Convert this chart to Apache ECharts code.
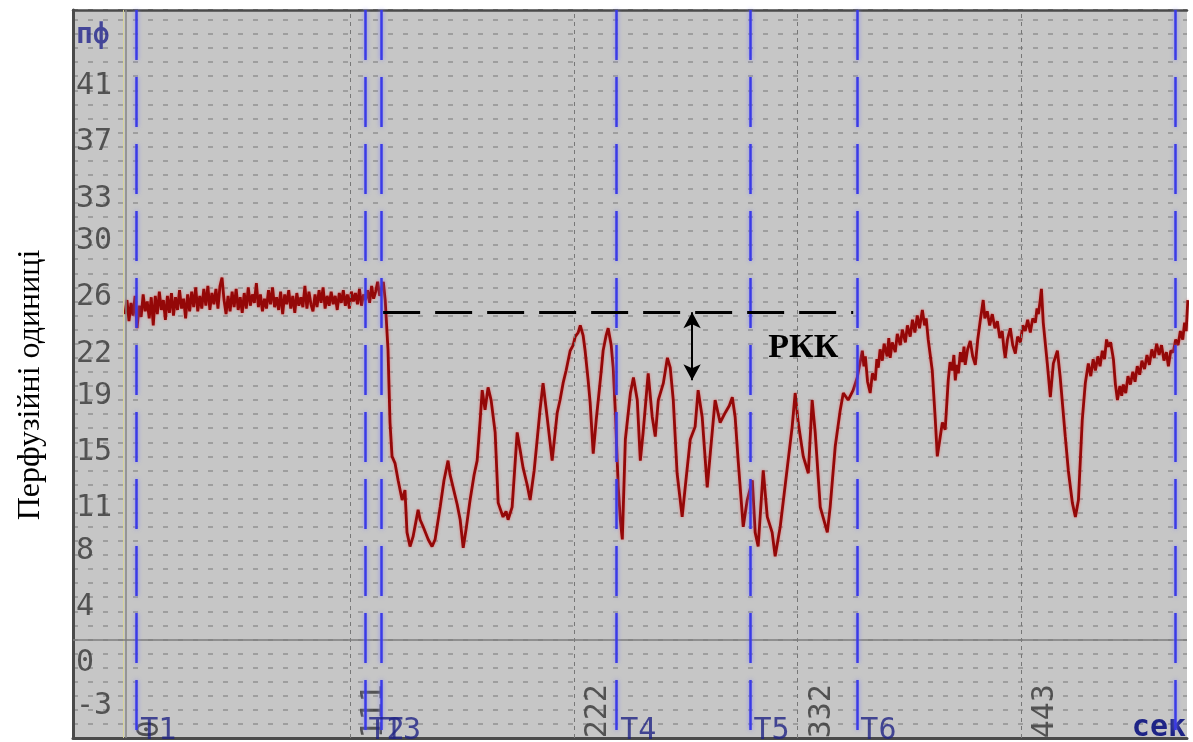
<!DOCTYPE html>
<html>
<head>
<meta charset="utf-8">
<script src="https://cdn.jsdelivr.net/npm/echarts@6/dist/echarts.min.js"></script>
<style>
  html, body { margin: 0; padding: 0; background: #ffffff; }
  #chart { width: 1193px; height: 742px; }
</style>
</head>
<body>
<div id="chart"></div>
<script>
// Laser Doppler flowmetry record: perfusion units over time, seconds.
// Each pair is [time, s ; perfusion, пф].
const perfusion = [
  [-0.5,24.6],[0.5,25.6],[1.5,24.1],[2.5,25.4],[3.5,24.5],[4.5,25.9],[5.5,23.6],[6.5,25.2],
  [7.5,24.4],[8.5,26.0],[9.5,24.8],[10.5,25.5],[11.5,24.3],[12.5,25.8],[13.5,23.8],[14.5,25.9],
  [15.5,24.6],[16.5,26.2],[17.5,24.9],[18.5,25.6],[19.5,24.2],[20.5,25.9],[21.5,24.7],[22.5,26.1],
  [23.5,24.5],[24.5,25.8],[25.5,24.9],[26.5,26.3],[27.5,25.0],[28.5,25.7],[29.5,24.3],[30.5,26.0],
  [31.5,24.8],[32.5,26.2],[33.5,25.1],[34.5,26.5],[35.5,24.8],[36.5,25.9],[37.5,25.0],[38.5,26.4],
  [39.5,25.2],[40.5,26.6],[41.5,24.9],[42.5,26.1],[43.5,25.3],[44.5,26.4],[45.5,25.0],[46.5,26.6],
  [47.5,27.2],[48.5,25.6],[49.5,24.6],[50.5,25.9],[51.5,24.8],[52.5,26.2],[53.5,25.1],[54.5,26.4],
  [55.5,24.9],[56.5,25.8],[57.5,24.7],[58.5,26.1],[59.5,25.0],[60.5,26.5],[61.5,25.2],[62.5,26.0],
  [63.5,25.4],[64.5,26.8],[65.5,25.1],[66.5,26.0],[67.5,24.8],[68.5,25.7],[69.5,25.0],[70.5,26.3],
  [71.5,25.3],[72.5,26.5],[73.5,25.1],[74.5,25.8],[75.5,24.9],[76.5,26.2],[77.5,24.6],[78.5,26.0],
  [79.5,25.3],[80.5,26.3],[81.5,25.0],[82.5,25.9],[83.5,24.7],[84.5,26.1],[85.5,25.2],[86.5,25.8],
  [87.5,25.1],[88.5,26.6],[89.5,25.0],[90.5,26.2],[91.5,25.3],[92.5,24.8],[93.5,26.0],[94.5,25.1],
  [95.5,26.3],[96.5,25.4],[97.5,26.5],[98.5,25.0],[99.5,25.9],[100.5,25.2],[101.5,26.2],[102.5,25.3],
  [103.5,25.9],[104.5,24.9],[105.5,26.1],[106.5,25.4],[107.5,26.3],[108.5,25.2],[109.5,26.0],[110.5,25.0],
  [111.5,26.2],[112.5,25.5],[113.5,26.1],[114.5,25.3],[115.5,26.4],[116.5,25.2],[117.5,26.0],[118.5,25.6],
  [119.5,26.3],[120.5,25.4],[121.5,26.6],[122.5,25.7],[123.5,26.2],[124.5,26.9],[125.5,25.9],[126.5,26.5],
  [127.3,26.9],
  [128.2,25.6],[129.6,22.1],[130.6,16.9],[131.6,14.5],[133.1,14.0],[134.6,12.8],[136.6,11.4],[138.0,12.1],
  [139.0,9.1],[140.5,8.1],[142.0,8.8],[144.5,10.7],[145.5,10.0],[147.0,9.5],[149.5,8.6],[151.4,8.1],
  [152.9,8.6],[155.4,10.9],[157.3,12.8],[159.3,14.2],[160.3,13.2],[161.8,12.3],[163.8,11.1],[165.3,10.0],
  [166.8,8.0],[168.2,9.3],[170.2,11.4],[172.2,13.2],[173.7,14.2],[175.2,17.1],[176.2,19.2],[177.6,17.8],
  [179.1,19.4],[180.6,18.5],[182.6,16.2],[184.1,11.2],[186.5,10.2],[188.0,10.6],[189.0,10.0],[191.0,10.9],
  [193.5,16.2],[194.9,15.0],[196.4,13.7],[198.4,12.5],[199.9,11.4],[201.9,13.5],[203.4,15.7],[204.8,17.8],
  [206.3,19.7],[208.3,17.3],[210.8,14.2],[213.3,17.6],[214.7,18.5],[216.2,19.7],[217.7,20.6],[219.7,22.0],
  [221.2,22.4],[222.2,23.0],[223.7,23.3],[224.7,23.8],[226.1,23.1],[227.1,22.0],[228.6,19.9],[229.6,18.3],
  [231.1,14.7],[232.6,17.1],[233.6,18.5],[235.1,20.6],[236.0,22.0],[237.5,23.1],[238.5,23.6],[240.0,22.4],
  [241.0,20.8],[242.0,17.8],[243.5,12.3],[244.5,10.0],[245.5,8.6],[247.0,15.7],[249.5,19.0],[251.0,20.1],
  [252.9,18.5],[254.4,14.2],[255.8,16.2],[258.3,20.4],[260.3,17.3],[261.8,15.9],[263.3,18.5],[265.8,19.7],
  [267.8,21.5],[269.2,20.8],[270.7,18.5],[272.6,13.3],[275.1,10.2],[276.6,12.3],[279.1,15.7],[281.5,16.6],
  [283.0,19.2],[285.0,17.3],[287.5,12.3],[289.0,14.7],[291.4,18.5],[293.9,16.9],[296.4,17.6],[298.4,18.1],
  [299.9,18.7],[301.3,17.3],[302.8,14.2],[305.3,9.5],[307.3,11.4],[309.8,12.8],[311.2,9.1],[312.7,8.1],
  [315.2,13.5],[317.2,10.2],[319.6,9.1],[321.1,7.4],[323.6,9.5],[327.1,13.7],[329.5,16.6],[331.0,19.0],
  [332.5,16.9],[335.0,14.5],[337.5,13.3],[339.4,18.5],[340.9,16.2],[343.4,10.9],[346.9,9.1],[348.3,10.9],
  [350.8,15.2],[353.3,17.8],[354.8,19.0],[357.2,18.5],[359.7,19.2],[361.7,20.1],
  [364.2,22.0],[365.0,20.9],[365.7,21.6],[366.8,19.8],[368.1,19.0],[369.2,20.4],[370.6,19.9],[371.4,21.4],
  [372.1,20.8],[373.0,22.1],[374.1,21.3],[375.0,22.5],[376.5,21.6],[377.3,22.9],[378.0,21.5],[379.0,22.6],
  [380.5,21.9],[381.5,23.2],[383.0,22.4],[384.0,23.5],[385.5,22.6],[386.5,23.8],[387.9,23.0],[389.0,24.2],
  [390.2,23.3],[391.4,24.5],[392.5,23.6],[393.9,24.9],[395.0,23.8],[395.8,24.3],[396.8,22.8],[398.8,20.6],
  [400.3,17.1],[401.3,14.5],[403.8,16.9],[405.2,16.4],[406.7,19.9],[407.6,21.2],[408.7,20.6],[409.5,21.7],
  [410.2,19.9],[411.0,21.0],[411.7,20.4],[412.7,21.9],[413.7,21.2],[414.5,22.3],[415.1,21.0],[416.3,22.1],
  [417.6,22.7],[418.8,21.6],[420.1,21.0],[421.3,22.8],[422.6,24.2],[423.3,24.9],[424.0,25.6],[424.8,24.3],
  [426.0,24.8],[427.2,23.8],[428.5,24.6],[429.8,23.6],[431.0,24.1],[432.2,22.9],[433.4,23.4],[434.2,22.2],
  [434.9,21.5],[436.0,22.8],[437.4,23.6],[438.6,22.4],[439.9,21.8],[441.0,23.0],[442.4,22.6],[443.6,23.8],
  [444.8,23.4],[446.0,24.2],[447.3,23.3],[448.5,24.3],[449.8,24.0],[450.6,25.0],[451.3,24.6],[452.2,25.6],
  [452.8,26.4],[453.7,24.0],[455.7,21.1],[457.2,18.7],[458.7,21.1],[460.7,22.0],[462.1,20.1],[464.6,15.9],
  [466.1,13.5],[468.1,11.2],[469.6,10.2],[471.1,11.4],[473.0,17.1],[474.5,19.7],[476.0,21.1],[477.2,20.2],
  [478.4,21.4],[479.5,20.6],[480.7,21.6],[481.8,20.9],[482.9,22.0],[484.0,21.4],[485.0,22.8],[485.9,22.3],
  [487.0,22.6],[488.4,21.4],[489.4,19.6],[490.4,18.5],[491.6,19.5],[492.5,18.8],[493.3,19.6],[494.5,19.0],
  [495.6,20.2],[496.8,19.6],[498.0,20.5],[499.1,19.8],[500.2,20.9],[501.4,20.3],[502.5,21.3],[503.8,20.7],
  [505.0,21.7],[506.2,21.0],[507.4,22.1],[508.6,21.5],[509.8,22.5],[511.0,21.7],[512.2,22.4],[513.4,21.3],
  [514.6,21.9],[515.6,20.9],[516.8,22.0],[518.0,21.9],[519.2,22.8],[520.4,22.4],[521.5,23.4],[522.7,22.8],
  [523.6,24.0],[524.4,23.4],[525.2,25.6]
];

// Event markers (blue dashed verticals)
const markerTimes = [5.3, 118.2, 126.4, 242.7, 308.6, 361.5, 518.8];
const markerNames = ['T1', 'T2', 'T3', 'T4', 'T5', 'T6', ''];

// Time grid and its labels
const timeTickValues = [0, 110.75, 221.5, 332.25, 443];
const timeTickLabels = ['0', '111', '222', '332', '443'];

// Perfusion axis labels (the last one is the unit)
const pfTickValues = [-3, 0, 4, 8, 11, 15, 19, 22, 26, 30, 33, 37, 41, 44.6];
const pfTickLabels = ['-3', '0', '4', '8', '11', '15', '19', '22', '26', '30', '33', '37', '41', 'пф'];

// Baseline level and the reserve (РКК) annotation
const baselineLevel = 24.73;
const baselineSpan = [127.2, 359.7];
const rkkArrow = { time: 280, top: 24.73, bottom: 19.9 };
const rkkLabel = { time: 335, level: 22.2, text: 'РКК' };

const X_MIN = -26.2, X_MAX = 524.8;
const Y_MIN = -5.5, Y_MAX = 46.2;
const MONO = 'DejaVu Sans Mono';
const NAVY = '#1f2384';

const chart = echarts.init(document.getElementById('chart'), null, { renderer: 'canvas' });

const blueLine = {
  color: '#3a3ae6', width: 2.5, type: [50, 17],
  shadowBlur: 4, shadowColor: 'rgba(130,130,255,0.85)'
};

const hiddenSymbol = { symbolSize: 1, itemStyle: { color: 'rgba(0,0,0,0)' } };

chart.setOption({
  animation: false,
  backgroundColor: '#ffffff',
  grid: {
    left: 73, top: 10, right: 6, bottom: 4,
    show: true, backgroundColor: '#c6c6c6', borderWidth: 0,
    outerBoundsMode: 'none'
  },
  xAxis: [{
    type: 'value', min: X_MIN, max: X_MAX, position: 'bottom',
    axisLine: { show: true, onZero: false, lineStyle: { color: '#4a4a4a', width: 3 } },
    axisTick: { show: false },
    splitLine: { show: false },
    axisLabel: { show: false },
    name: 'сек', nameLocation: 'end', nameGap: -1,
    nameTextStyle: {
      align: 'right', verticalAlign: 'bottom', lineHeight: 20,
      fontFamily: MONO, fontSize: 30, fontWeight: 'bold', color: '#1e2486'
    }
  }, {
    type: 'value', min: X_MIN, max: X_MAX, position: 'top',
    axisLine: { show: true, onZero: false, lineStyle: { color: '#4a4a4a', width: 2.5 } },
    axisTick: { show: false }, axisLabel: { show: false }, splitLine: { show: false }
  }],
  yAxis: [{
    type: 'value', min: Y_MIN, max: Y_MAX, interval: 1,
    axisLine: { show: true, onZero: false, lineStyle: { color: '#4a4a4a', width: 3 } },
    axisTick: { show: false },
    axisLabel: { show: false },
    splitLine: { show: true, lineStyle: { color: '#9e9e9e', width: 2, type: [5, 10] } }
  }],
  graphic: [{
    type: 'text', x: 31, y: 385, rotation: Math.PI / 2,
    style: {
      text: 'Перфузійні одиниці', fill: '#000000',
      font: '32px "Liberation Serif"', align: 'center', verticalAlign: 'middle'
    }
  }],
  series: [
    // reference lines of the recorder grid
    {
      type: 'line', data: [], silent: true, z: 1,
      markLine: {
        silent: true, symbol: 'none', label: { show: false }, animation: false,
        data: [
          { xAxis: -1.2, lineStyle: { color: '#d8d49c', width: 1, type: 'solid' } },
          { xAxis: timeTickValues[0], lineStyle: { color: '#858585', width: 1.5, type: 'solid' } },
          ...timeTickValues.slice(1).map(t => ({ xAxis: t, lineStyle: { color: '#777777', width: 1, type: [4, 4] } })),
          { yAxis: 1.5, lineStyle: { color: '#7c7c7c', width: 1.5, type: 'solid' } }
        ]
      }
    },
    // perfusion scale labels along the left edge
    {
      type: 'scatter', z: 2, silent: true, ...hiddenSymbol,
      data: pfTickValues.map((v, i) => {
        const item = { value: [X_MIN + 0.2, v], name: pfTickLabels[i] };
        if (i === pfTickValues.length - 1) {
          item.label = { fontWeight: 'bold', fontSize: 28, color: '#22248c' };
        }
        return item;
      }),
      label: {
        show: true, position: 'right', distance: 2, offset: [0, 3],
        formatter: p => p.name,
        fontFamily: MONO, fontSize: 30, color: '#363636'
      }
    },
    // time scale labels, written upward beside the grid lines
    // (offset is in the rotated label frame: +y moves the text to the right)
    {
      type: 'scatter', z: 2, silent: true, ...hiddenSymbol,
      data: timeTickValues.map((t, i) => ({ value: [t, Y_MIN + 0.05], name: timeTickLabels[i] })),
      label: {
        show: true, position: 'inside', rotate: 90, offset: [-1, 9],
        align: 'left', verticalAlign: 'top',
        formatter: p => p.name,
        fontFamily: MONO, fontSize: 30, color: '#343434'
      }
    },
    // perfusion trace
    {
      type: 'line', data: perfusion, showSymbol: false, z: 3,
      lineStyle: { color: '#940808', width: 2.8, shadowBlur: 3, shadowColor: 'rgba(225,110,110,0.85)' }
    },
    // event markers and their names
    {
      type: 'scatter', z: 5, silent: true, ...hiddenSymbol,
      data: markerTimes.map((t, i) => ({ value: [t, -5.0], name: markerNames[i] })),
      label: {
        show: true, position: 'right', distance: 3,
        formatter: p => p.name,
        fontFamily: MONO, fontSize: 30, color: NAVY
      },
      markLine: {
        silent: true, symbol: 'none', label: { show: false }, animation: false,
        lineStyle: blueLine,
        data: markerTimes.map(t => [{ coord: [t, Y_MAX] }, { coord: [t, Y_MIN] }])
      }
    },
    // baseline level and the reserve arrow
    {
      type: 'line', data: [], z: 6, silent: true,
      markLine: {
        silent: true, animation: false, label: { show: false },
        data: [
          [{ coord: [baselineSpan[0], baselineLevel], symbol: 'none' },
           { coord: [baselineSpan[1], baselineLevel], symbol: 'none',
             lineStyle: { color: '#000000', width: 3, type: [37, 15] } }],
          [{ coord: [rkkArrow.time, rkkArrow.top], symbol: 'arrow', symbolSize: [13, 16] },
           { coord: [rkkArrow.time, rkkArrow.bottom], symbol: 'arrow', symbolSize: [13, 16],
             lineStyle: { color: '#000000', width: 2, type: 'solid' } }]
        ],
        lineStyle: { color: '#000000' },
        itemStyle: { color: '#000000' }
      },
      markPoint: {
        silent: true, animation: false, symbol: 'rect', symbolSize: 1,
        itemStyle: { color: 'rgba(0,0,0,0)' },
        label: {
          show: true, position: 'inside', formatter: rkkLabel.text,
          fontFamily: 'Liberation Serif', fontWeight: 'bold', fontSize: 34, color: '#000000'
        },
        data: [{ coord: [rkkLabel.time, rkkLabel.level] }]
      }
    }
  ]
});
</script>
</body>
</html>
